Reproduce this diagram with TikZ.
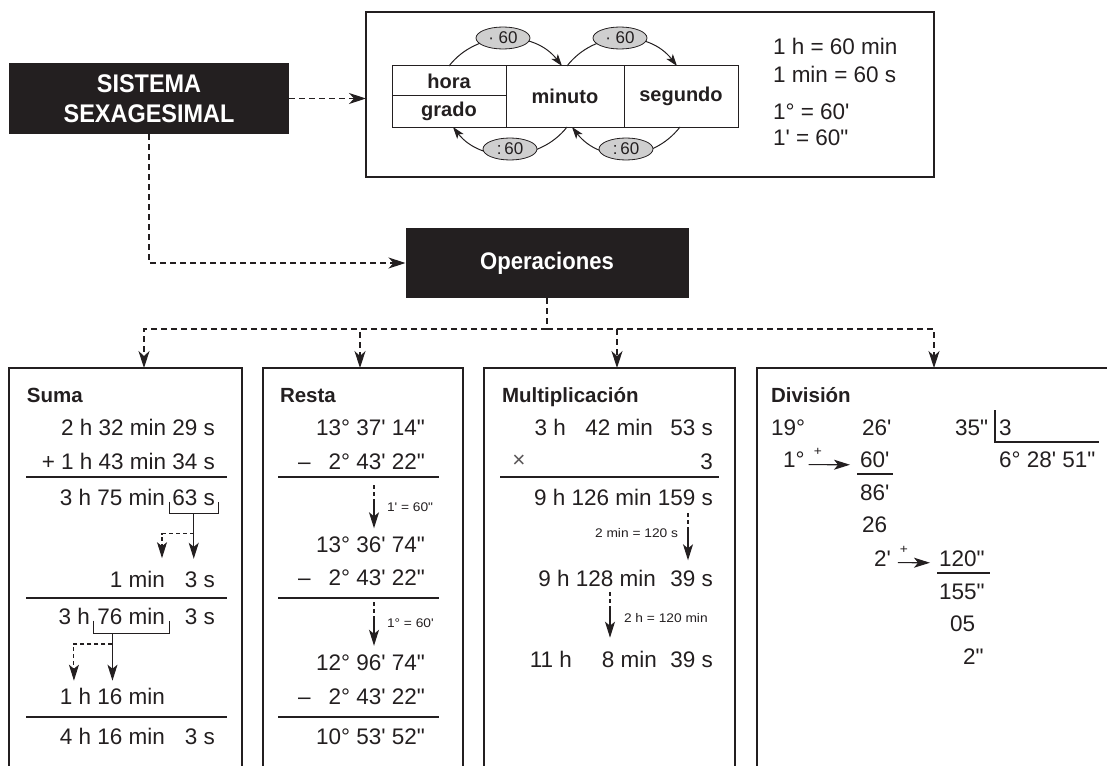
\documentclass[tikz,border=0pt]{standalone}
\usepackage{fontspec}
\setmainfont{Liberation Sans}[Ligatures=TeXOff]
\newfontfamily\headfont{Liberation Sans}[Ligatures=TeXOff,FakeStretch=0.92]
\newfontfamily\notefont{Liberation Sans}[Ligatures=TeXOff,FakeStretch=1.1]
\usetikzlibrary{arrows.meta,shapes.geometric,calc}
\definecolor{ink}{HTML}{231F20}
\definecolor{ovalgray}{HTML}{CFCFCF}

\begin{document}
\begin{tikzpicture}[x=1pt,y=-1pt,
  every node/.style={inner sep=0pt,outer sep=0pt,text=ink},
  darkbox/.style={fill=ink,text=white,font=\headfont\bfseries\fontsize{25.5}{30}\selectfont,align=center},
  frame/.style={draw=ink,line width=1.3pt},
  cell/.style={draw=ink,line width=1pt,font=\bfseries\fontsize{20}{24}\selectfont},
  factor/.style={ellipse,draw=ink,line width=0.8pt,fill=ovalgray,minimum width=54pt,minimum height=22pt,font=\fontsize{17}{20}\selectfont},
  link/.style={draw=ink,line width=1.1pt,dash pattern=on 6pt off 4pt},
  bigtip/.style={-{Stealth[length=17pt,width=11pt,inset=5pt]}},
  arcarrow/.style={draw=ink,line width=1pt,-{Stealth[length=12pt,width=8pt,inset=3pt]}},
  stem/.style={draw=ink,line width=1.2pt,-{Stealth[length=16pt,width=10pt,inset=4pt]}},
  dstem/.style={draw=ink,line width=1.1pt,dash pattern=on 4pt off 3pt},
  ptip/.style={-{Stealth[length=16pt,width=10pt,inset=4pt]}},
  bracket/.style={draw=ink,line width=1pt},
  num/.style={font=\fontsize{22.5}{26}\selectfont},
  eq/.style={font=\fontsize{22.5}{26}\selectfont,anchor=base west},
  note/.style={font=\notefont\fontsize{12.5}{15}\selectfont},
  title/.style={font=\bfseries\fontsize{20.5}{24}\selectfont,anchor=base west},
  rule/.style={draw=ink,line width=1.2pt},
  re/.style={num,anchor=base east},
  rw/.style={num,anchor=base west},
]
\useasboundingbox (0,0) rectangle (1107,765);
\clip (0,0) rectangle (1107,765);

% ---------- header: system box and unit table ----------
\node[darkbox,minimum width=280pt,minimum height=71pt] (sis) at (149,98.5) {SISTEMA\\SEXAGESIMAL};
\node[frame,minimum width=568pt,minimum height=165pt] (units) at (650,94.5) {};
\draw[link,bigtip] (sis.east) -- (sis.east -| units.west);

\node[cell,minimum width=114pt,minimum height=30pt] (hora) at (449,81) {hora};
\node[cell,minimum width=114pt,minimum height=31pt] (grado) at (449,111.5) {grado};
\node[cell,minimum width=118pt,minimum height=61pt] (minuto) at (565,96.5) {minuto};
\node[cell,minimum width=114pt,minimum height=61pt] (segundo) at (681,96.5) {segundo};

\draw[arcarrow] (hora.north) .. controls +(28,-36) and +(-28,-36) .. ([xshift=-3pt]minuto.north);
\draw[arcarrow] ([xshift=2pt]minuto.north) .. controls +(28,-36) and +(-28,-36) .. ([xshift=-4pt]segundo.north);
\draw[arcarrow] ([xshift=2pt]minuto.south) .. controls +(-28,36) and +(28,36) .. ([xshift=4pt]grado.south);
\draw[arcarrow] ([xshift=-1pt]segundo.south) .. controls +(-28,36) and +(28,36) .. ([xshift=7pt]minuto.south);

\node[factor] (f1) at (503,38) {· 60};
\node[factor] (f2) at (620,38) {· 60};
\node[factor] (f3) at (510,149) {:\,60};
\node[factor] (f4) at (626,149) {:\,60};

\node[eq] (u1) at (773,55) {1 h = 60 min};
\node[eq] (u2) at (773,83) {1 min = 60 s};
\node[eq] (u3) at (773,120) {1° = 60'};
\node[eq] (u4) at (773,145) {1' = 60"};

% ---------- operations ----------
\node[darkbox,font=\headfont\bfseries\fontsize{24}{28}\selectfont,minimum width=283pt,minimum height=70pt] (ops) at (547,263) {Operaciones};
\draw[link,bigtip] (sis.south) |- (ops.west);

\coordinate (level) at (0,329);
\coordinate (hub) at (ops.south |- level);
\draw[link] (ops.south) -- (hub);

\node[frame,anchor=north west,minimum width=233pt,minimum height=420pt] (suma) at (9,368) {};
\node[frame,anchor=north west,minimum width=200pt,minimum height=420pt] (resta) at (263,368) {};
\node[frame,anchor=north west,minimum width=251pt,minimum height=420pt] (multi) at (484,368) {};
\node[frame,anchor=north west,minimum width=363pt,minimum height=420pt] (divi) at (757,368) {};

\draw[link,bigtip] (hub) -| ([xshift=18.5pt]suma.north);
\draw[link,bigtip] (hub) -| ([xshift=-3pt]resta.north);
\draw[link,bigtip] (hub) -| ([xshift=7.5pt]multi.north);
\draw[link,bigtip] (hub) -| ([xshift=-4.5pt]divi.north);

% ---------- Suma ----------
\node[title] (tsuma) at (27,402) {Suma};
\node[re] (s1) at (215,435) {2 h 32 min 29 s};
\node[re] (s2) at (215,469) {+ 1 h 43 min 34 s};
\draw[rule] (26,477) -- (227,477);
\node[re] (s3a) at (165,505.5) {3 h 75 min};
\node[re] (s3b) at (215,505.5) {63 s};
\draw[bracket] ([shift={(-3,-4)}]s3b.base west) -- ++(0,12) -| ([shift={(3,-4)}]s3b.base east);
\coordinate (k1) at ($(s3b.base west)!0.5!(s3b.base east)+(0,8)$);
\node[re] (s4a) at (165,587.5) {1 min};
\node[re] (s4b) at (215,587.5) {3 s};
\draw[stem,shorten >=13pt] (k1) -- (k1 |- s4b.north);
\draw[dstem,ptip,shorten >=13pt] ($(k1)+(0,20)$) -| ([xshift=-3pt]s4a.north east);
\draw[rule] (26,598) -- (227,598);
\node[re] (s5a) at (90,624.5) {3 h};
\node[re] (s5b) at (165,624.5) {76 min};
\node[re] (s5c) at (215,624.5) {3 s};
\draw[bracket] ([shift={(-4,-4)}]s5b.base west) -- ++(0,12.5) -| ([shift={(4,-4)}]s5b.base east);
\coordinate (k2) at ([shift={(15,8.5)}]s5b.base west);
\node[re] (s6) at (165,704.5) {1 h 16 min};
\draw[stem,shorten >=7.5pt] (k2) -- (k2 |- s6.north);
\draw[dstem,ptip,shorten >=7.5pt] ($(k2)+(0,11)$) -| ([xshift=14pt]s6.north west);
\draw[rule] (26,717) -- (227,717);
\node[re] (s7a) at (165,744.5) {4 h 16 min};
\node[re] (s7b) at (215,744.5) {3 s};

% ---------- Resta ----------
\node[title] (tresta) at (280,402) {Resta};
\node[re] (r1) at (425,435) {13° 37' 14"};
\node[rw] (r2m) at (298,469) {–};
\node[re] (r2) at (425,469) {2° 43' 22"};
\draw[rule] (278,477) -- (439,477);
\node[re] (r3) at (425,552.5) {13° 36' 74"};
\coordinate (ra) at (374,485);
\draw[dstem] (ra) -- ++(0,18) coordinate (ram);
\draw[stem,shorten >=8.5pt] (ram) -- (ram |- r3.north);
\node[note,anchor=west] (rl1) at (387,507) {1' = 60"};
\node[rw] (r4m) at (298,585.5) {–};
\node[re] (r4) at (425,585.5) {2° 43' 22"};
\draw[rule] (278,598) -- (439,598);
\node[re] (r5) at (425,670.5) {12° 96' 74"};
\coordinate (rb) at (374,602);
\draw[dstem] (rb) -- ++(0,18) coordinate (rbm);
\draw[stem,shorten >=9pt] (rbm) -- (rbm |- r5.north);
\node[note,anchor=west] (rl2) at (387,623) {1° = 60'};
\node[rw] (r6m) at (298,704.5) {–};
\node[re] (r6) at (425,704.5) {2° 43' 22"};
\draw[rule] (278,717) -- (439,717);
\node[re] (r7) at (425,744.5) {10° 53' 52"};

% ---------- Multiplicación ----------
\node[title] (tmult) at (502,402) {Multiplicación};
\node[re] (m1a) at (566,435) {3 h};
\node[re] (m1b) at (653,435) {42 min};
\node[re] (m1c) at (713,435) {53 s};
\node[num,text=ink!75] (m2x) at (519,461) {×};
\node[re] (m2) at (713,469) {3};
\draw[rule] (500,477) -- (719,477);
\node[re] (m3) at (713,505.5) {9 h 126 min 159 s};
\node[re] (m4a) at (656,586.5) {9 h 128 min};
\node[re] (m4b) at (713,586.5) {39 s};
\coordinate (ma) at (688,513);
\draw[dstem] (ma) -- ++(0,18) coordinate (mam);
\draw[stem,shorten >=10.5pt] (mam) -- (mam |- m4b.north);
\node[note,anchor=base east] (ml1) at (678,537) {2 min = 120 s};
\node[re] (m5a) at (572,667.5) {11 h};
\node[re] (m5b) at (657,667.5) {8 min};
\node[re] (m5c) at (713,667.5) {39 s};
\coordinate (mb) at (610,592);
\draw[dstem] (mb) -- ++(0,18) coordinate (mbm);
\draw[stem,shorten >=13.5pt] (mbm) -- (mbm |- m5b.north);
\node[note,anchor=base west] (ml2) at (624,622) {2 h = 120 min};

% ---------- División ----------
\node[title] (tdiv) at (771,402) {División};
\node[rw] (d19) at (771,435) {19°};
\node[rw] (d26) at (862,435) {26'};
\node[re] (d35) at (988,435) {35"};
\node[rw] (d3) at (999,435) {3};
\draw[rule] (995,410) |- (1099,442);
\node[rw] (dq) at (999,467.5) {6° 28' 51"};
\node[rw] (d1) at (783,467.5) {1°};
\node[rw] (d60) at (860,467.5) {60'};
\draw[draw=ink,line width=1.1pt,ptip] ([shift={(4,5)}]d1.east) -- ([shift={(-10,5)}]d60.west);
\node[note] (dp1) at (818,452) {+};
\draw[rule] ([shift={(-3,6.5)}]d60.base west) -- ([shift={(4,6.5)}]d60.base east);
\node[rw] (d86) at (860,500.5) {86'};
\node[rw] (d26b) at (862,532.5) {26};
\node[rw] (d2) at (874,566.5) {2'};
\node[rw] (d120) at (939,566.5) {120"};
\draw[draw=ink,line width=1.1pt,ptip] ([shift={(7,4)}]d2.east) -- ([shift={(-9,4)}]d120.west);
\node[note] (dp2) at (904,550) {+};
\draw[rule] ([shift={(-2,6.5)}]d120.base west) -- ([shift={(5.5,6.5)}]d120.base east);
\node[rw] (d155) at (939,599.5) {155"};
\node[rw] (d05) at (950,631.5) {05};
\node[rw] (d2s) at (963,664.5) {2"};
\end{tikzpicture}
\end{document}
